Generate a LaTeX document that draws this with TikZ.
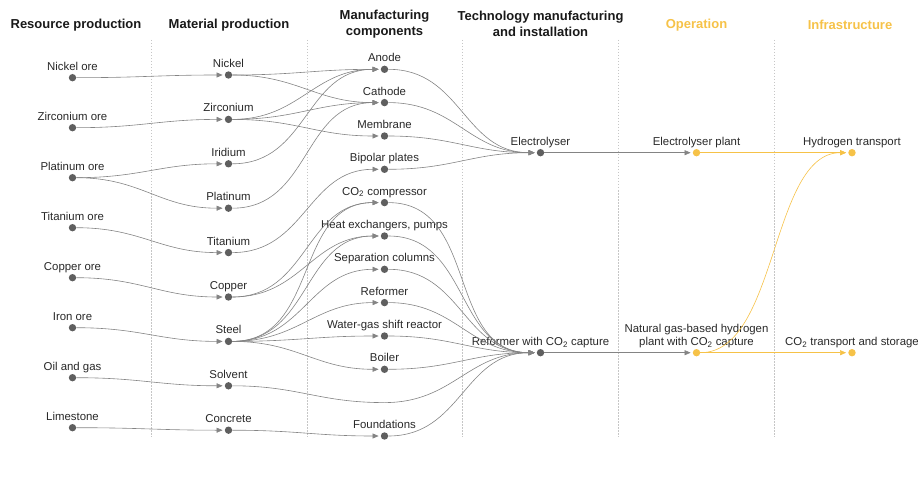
\documentclass[tikz,border=0pt]{standalone}
\usepackage{fontspec}
\setmainfont{Liberation Sans}
\usetikzlibrary{arrows.meta}
\definecolor{flowgray}{RGB}{132,132,132}
\definecolor{dotgray}{RGB}{95,95,95}
\definecolor{textgray}{RGB}{40,40,40}
\definecolor{hyellow}{RGB}{246,194,72}

\tikzset{
  stage/.style={circle, fill=dotgray, inner sep=0pt, minimum size=7.4pt},
  ystage/.style={stage, fill=hyellow},
  lbl/.style={font=\fontsize{11.4}{13}\selectfont, text=textgray,
    inner sep=1pt, text height=8.2pt, text depth=2.4pt},
  head/.style={font=\fontsize{13}{16}\selectfont\bfseries, align=center,
    text=black!90},
  flow/.style={draw=flowgray, line width=0.6pt,
    -{Triangle[length=6pt,width=5pt]}, shorten >=2pt,
    out=0, in=180, looseness=1.1},
  yflow/.style={flow, draw=hyellow},
}

\begin{document}
\begin{tikzpicture}[x=1pt, y=-1pt]
  \useasboundingbox (0,0) rectangle (918,481);

  % Separators
  \foreach \x in {151,307,462.5,618.5,774} {
    \draw[gray!45, line width=0.5pt, dash pattern=on 1.5pt off 1.5pt] (\x,40) -- (\x,437);
  }

  % Headers
  \node[head] at (76,25) {Resource production};
  \node[head] at (229,25) {Material production};
  \node[head] at (384.5,24) {Manufacturing\\components};
  \node[head] at (540.5,24) {Technology manufacturing\\and installation};
  \node[head, text=hyellow] at (696.5,25) {Operation};
  \node[head, text=hyellow] at (850,25) {Infrastructure};

  % Column 1: resources
  \node[stage, label={[lbl]above:Nickel ore}] (nickelore) at (72.5,77.7) {};
  \node[stage, label={[lbl]above:Zirconium ore}] (zirconore) at (72.5,127.7) {};
  \node[stage, label={[lbl]above:Platinum ore}] (platore) at (72.5,177.7) {};
  \node[stage, label={[lbl]above:Titanium ore}] (titanore) at (72.5,227.7) {};
  \node[stage, label={[lbl]above:Copper ore}] (copperore) at (72.5,277.7) {};
  \node[stage, label={[lbl]above:Iron ore}] (ironore) at (72.5,327.7) {};
  \node[stage, label={[lbl]above:Oil and gas}] (oilgas) at (72.5,377.7) {};
  \node[stage, label={[lbl]above:Limestone}] (limestone) at (72.5,427.7) {};

  % Column 2: materials
  \node[stage, label={[lbl]above:Nickel}] (nickel) at (228.5,75) {};
  \node[stage, label={[lbl]above:Zirconium}] (zircon) at (228.5,119.4) {};
  \node[stage, label={[lbl]above:Iridium}] (iridium) at (228.5,163.8) {};
  \node[stage, label={[lbl]above:Platinum}] (platinum) at (228.5,208.2) {};
  \node[stage, label={[lbl]above:Titanium}] (titan) at (228.5,252.6) {};
  \node[stage, label={[lbl]above:Copper}] (copper) at (228.5,297) {};
  \node[stage, label={[lbl]above:Steel}] (steel) at (228.5,341.4) {};
  \node[stage, label={[lbl]above:Solvent}] (solvent) at (228.5,385.8) {};
  \node[stage, label={[lbl]above:Concrete}] (concrete) at (228.5,430.2) {};

  % Column 3: components
  \node[stage, label={[lbl]above:Anode}] (anode) at (384.5,69.3) {};
  \node[stage, label={[lbl]above:Cathode}] (cathode) at (384.5,102.6) {};
  \node[stage, label={[lbl]above:Membrane}] (membrane) at (384.5,136) {};
  \node[stage, label={[lbl]above:Bipolar plates}] (bipolar) at (384.5,169.3) {};
  \node[stage, label={[lbl]above:CO\textsubscript{2} compressor}] (compressor) at (384.5,202.6) {};
  \node[stage, label={[lbl]above:{Heat exchangers, pumps}}] (heatex) at (384.5,236) {};
  \node[stage, label={[lbl]above:Separation columns}] (sepcol) at (384.5,269.3) {};
  \node[stage, label={[lbl]above:Reformer}] (reformer) at (384.5,302.6) {};
  \node[stage, label={[lbl]above:Water-gas shift reactor}] (wgs) at (384.5,336) {};
  \node[stage, label={[lbl]above:Boiler}] (boiler) at (384.5,369.3) {};
  \coordinate (solventvia) at (384.5,402.6);
  \node[stage, label={[lbl]above:Foundations}] (foundations) at (384.5,436) {};

  % Column 4: technology
  \node[stage, label={[lbl]above:Electrolyser}] (electrolyser) at (540.5,152.7) {};
  \node[stage, label={[lbl]above:Reformer with CO\textsubscript{2} capture}] (refccs) at (540.5,352.7) {};

  % Column 5 and 6: operation, infrastructure
  \node[ystage, label={[lbl]above:Electrolyser plant}] (elplant) at (696.5,152.7) {};
  \node[ystage, label={[lbl, align=center]above:{Natural gas-based hydrogen\\plant with CO\textsubscript{2} capture}}] (ngplant) at (696.5,352.7) {};
  \node[ystage, label={[lbl]above:Hydrogen transport}] (h2trans) at (852,152.7) {};
  \node[ystage, label={[lbl]above:CO\textsubscript{2} transport and storage}] (co2trans) at (852,352.7) {};

  % Flows
  \foreach \a/\b in {nickelore/nickel, zirconore/zircon, platore/iridium,
      platore/platinum, titanore/titan, copperore/copper, ironore/steel,
      oilgas/solvent, limestone/concrete,
      nickel/anode, nickel/cathode, zircon/anode, zircon/cathode,
      zircon/membrane, iridium/anode, platinum/cathode, titan/bipolar,
      copper/compressor, copper/heatex, steel/compressor, steel/heatex,
      steel/sepcol, steel/reformer, steel/wgs, steel/boiler,
      concrete/foundations,
      anode/electrolyser, cathode/electrolyser, membrane/electrolyser,
      bipolar/electrolyser,
      compressor/refccs, heatex/refccs, sepcol/refccs, reformer/refccs,
      wgs/refccs, boiler/refccs, foundations/refccs,
      electrolyser/elplant, refccs/ngplant} {
    \draw[flow] (\a) to (\b);
  }
  \draw[draw=flowgray, line width=0.6pt] (solvent) to[out=0, in=180, looseness=1.1] (solventvia);
  \draw[flow] (solventvia) to (refccs);

  \draw[yflow] (elplant) to (h2trans);
  \draw[yflow, looseness=0.8] (ngplant) to (h2trans);
  \draw[yflow] (ngplant) to (co2trans);
\end{tikzpicture}
\end{document}
